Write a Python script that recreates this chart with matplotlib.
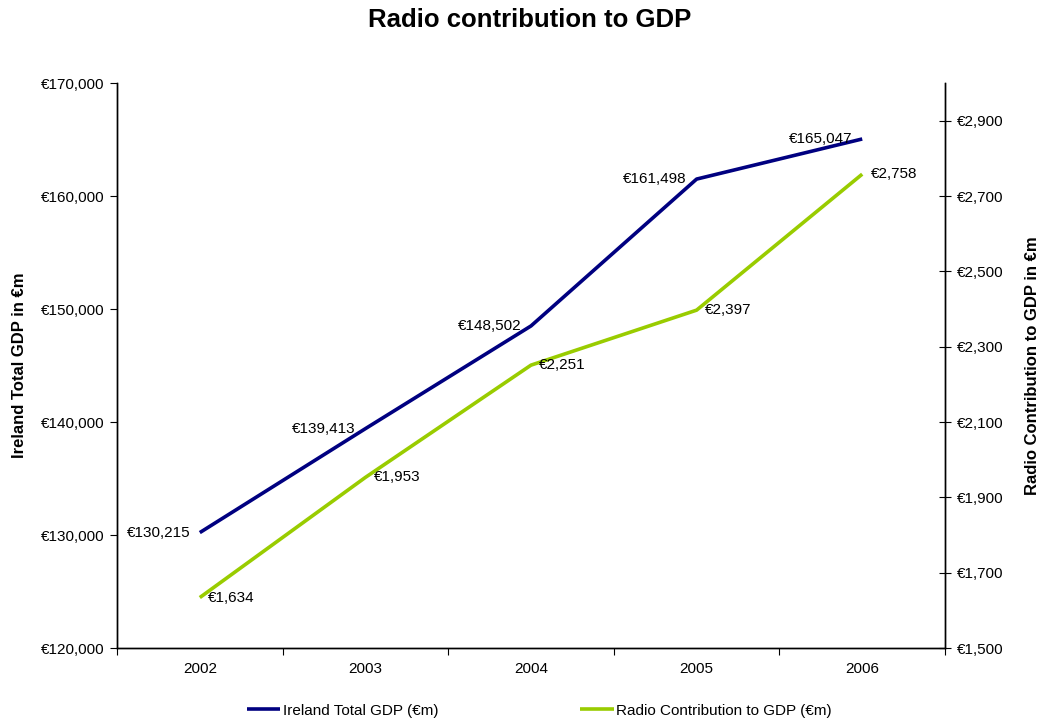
#!/usr/bin/env python3
import matplotlib
matplotlib.use("Agg")
import matplotlib.pyplot as plt
import matplotlib.ticker as plticker

plt.rcParams.update({
    "font.family": ["Liberation Sans", "DejaVu Sans"],
    "font.size": 11,
})

years = ["2002", "2003", "2004", "2005", "2006"]
gdp_total = [130215, 139413, 148502, 161498, 165047]
radio_gdp = [1634, 1953, 2251, 2397, 2758]

navy = "#000080"
green = "#99CC00"

fig = plt.figure(figsize=(10.41, 7.23), dpi=100)
ax = fig.add_axes([0.1124, 0.1037, 0.7954, 0.7815])
ax2 = ax.twinx()

x = list(range(len(years)))
l1, = ax.plot(x, gdp_total, color=navy, lw=2.6, solid_capstyle="butt",
              label="Ireland Total GDP (€m)")
l2, = ax2.plot(x, radio_gdp, color=green, lw=2.6, solid_capstyle="butt",
               label="Radio Contribution to GDP (€m)")

for xi, v in zip(x, gdp_total):
    ax.annotate(f"€{v:,}", (xi, v), xytext=(-7, 0), textcoords="offset points",
                ha="right", va="center", fontsize=11)
for xi, v in zip(x, radio_gdp):
    ax2.annotate(f"€{v:,}", (xi, v), xytext=(6, 0), textcoords="offset points",
                 ha="left", va="center", fontsize=11)

# category axis: ticks between categories
ax.set_xlim(-0.5, len(years) - 0.5)
ax.set_xticks([i - 0.5 for i in range(len(years) + 1)])
ax.set_xticklabels([])
ax.set_xticks(x, minor=True)
ax.set_xticklabels(years, minor=True)
ax.tick_params(axis="x", which="major", direction="out", length=5)
ax.tick_params(axis="x", which="minor", length=0, pad=10)

ax.set_ylim(120000, 170000)
ax.yaxis.set_major_locator(plticker.MultipleLocator(10000))
ax.yaxis.set_major_formatter(plticker.FuncFormatter(lambda v, p: f"€{v:,.0f}"))
ax.tick_params(axis="y", direction="out", length=5, pad=4)

ax2.set_ylim(1500, 3000)
ax2.set_yticks([1500, 1700, 1900, 2100, 2300, 2500, 2700, 2900])
ax2.yaxis.set_major_formatter(plticker.FuncFormatter(lambda v, p: f"€{v:,.0f}"))
ax2.tick_params(axis="y", direction="inout", length=9, pad=4)

for a in (ax, ax2):
    a.spines["top"].set_visible(False)
    for s in a.spines.values():
        s.set_linewidth(1.0)

ax.set_ylabel("Ireland Total GDP in €m", fontweight="bold", fontsize=12)
ax.yaxis.set_label_coords(-0.109, 0.5)
ax2.set_ylabel("Radio Contribution to GDP in €m", fontweight="bold", fontsize=12,
               rotation=90)
ax2.yaxis.set_label_coords(1.096, 0.5)

fig.text(0.509, 0.973, "Radio contribution to GDP", fontweight="bold",
         fontsize=18.5, ha="center", va="center")

fig.legend(handles=[l1, l2], loc="center", bbox_to_anchor=(0.518, 0.017),
           ncol=2, frameon=False, handlelength=2.2, handletextpad=0.15,
           columnspacing=9.3, fontsize=11)

fig.savefig("out.png", dpi=100)
